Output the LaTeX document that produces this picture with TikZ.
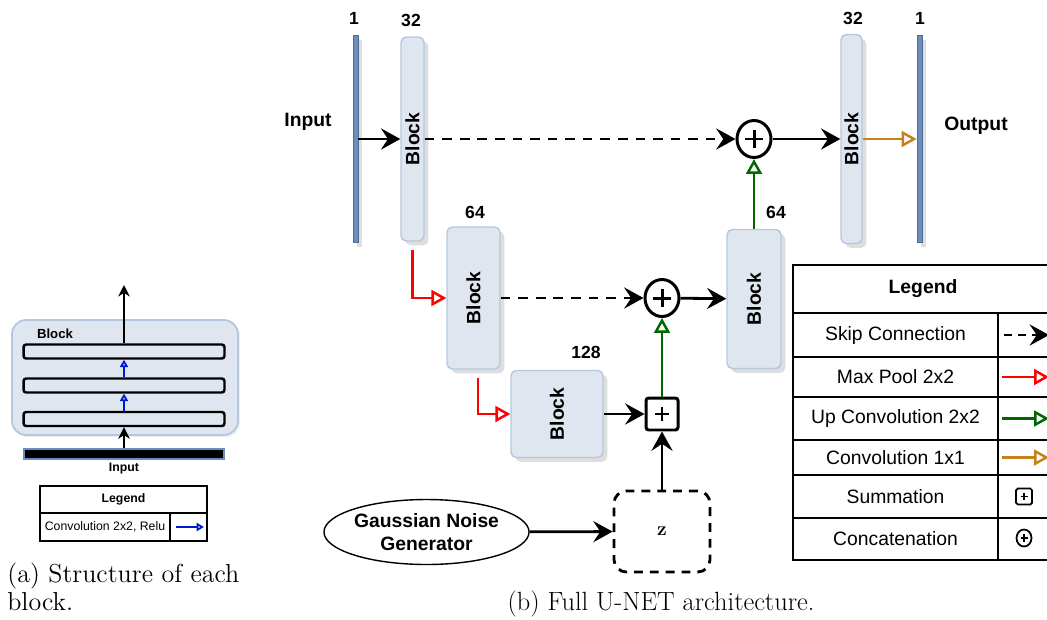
\documentclass[tikz,border=0pt]{standalone}
\usepackage{fontspec}
\setsansfont{Liberation Sans}
\usetikzlibrary{arrows.meta,shadows,shapes.geometric,positioning}

\definecolor{blockfill}{HTML}{DFE6EF}
\definecolor{blockline}{HTML}{B4C7DF}
\definecolor{barblue}{HTML}{6C8EBF}
\definecolor{upgreen}{HTML}{006600}
\definecolor{convorange}{HTML}{C8801A}
\definecolor{relublue}{HTML}{0019CC}

\tikzset{
  softshadow/.style={drop shadow={shadow xshift=2.5pt, shadow yshift=-2.5pt, fill=black!13, opacity=1}},
  blockbox/.style={draw=blockline, line width=0.8pt, fill=blockfill, rounded corners=3pt,
    inner sep=0pt, softshadow,
    label={[rotate=90, font=\sffamily\bfseries\fontsize{11}{13}\selectfont]center:Block}},
  layerbar/.style={draw=barblue!75!black, fill=barblue, line width=0.4pt, inner sep=0pt,
    minimum width=0.1cm, minimum height=4.14cm, softshadow},
  dimlabel/.style={font=\sffamily\bfseries\fontsize{10}{12}\selectfont, inner sep=0pt},
  plussign/.style 2 args={path picture={
    \draw[line width=#2] ([xshift=-#1]path picture bounding box.center) -- ([xshift=#1]path picture bounding box.center)
      ([yshift=-#1]path picture bounding box.center) -- ([yshift=#1]path picture bounding box.center);}},
  concat/.style={ellipse, draw, line width=1.7pt, minimum width=0.68cm, minimum height=0.74cm,
    inner sep=0pt, plussign={5pt}{1.7pt}},
  sumbox/.style={draw, line width=1.7pt, rounded corners=1.5pt, minimum size=0.64cm,
    inner sep=0pt, plussign={4pt}{1.6pt}},
  plain/.style={-{Stealth[length=11pt,width=12pt,inset=4pt]}, line width=1.6pt},
  skip/.style={plain, dash pattern=on 5.5pt off 4.5pt},
  openarrow/.style={-{Triangle[open,length=8.5pt,width=9pt]}, line width=1.4pt},
  maxpool/.style={openarrow, red},
  upconv/.style={openarrow, upgreen},
  convone/.style={openarrow, convorange},
  relu/.style={-{Triangle[open,length=4.2pt,width=4.6pt]}, line width=1pt, relublue},
  thinarrow/.style={-{Stealth[length=6.5pt,width=6.5pt,inset=2pt]}, line width=1pt},
  smalltext/.style={font=\sffamily\bfseries\fontsize{7}{8}\selectfont, inner sep=0pt},
  legendtext/.style={font=\sffamily\fontsize{11}{13}\selectfont, inner sep=0pt}
}

\begin{document}
\begin{tikzpicture}[x=0.02cm, y=-0.02cm]
  \useasboundingbox (0,0) rectangle (1047,619);
  \clip (0,0) rectangle (1047,619);

  % (a) structure of each block
  \node[draw=blockline, line width=1pt, fill=blockfill, rounded corners=8pt, minimum width=4.52cm,
    minimum height=2.3cm, inner sep=0pt, drop shadow={shadow xshift=1.2pt, shadow yshift=-1.2pt, fill=black!12}] (acont) at (125,377.5) {};
  \node[smalltext, font=\sffamily\bfseries\fontsize{7.5}{9}\selectfont] (ablock) at (55,334) {Block};
  \node[draw, line width=1.4pt, rounded corners=1.5pt, minimum width=4.02cm, minimum height=0.28cm, inner sep=0pt] (a1) at (124,351.5) {};
  \node[draw, line width=1.4pt, rounded corners=1.5pt, minimum width=4.02cm, minimum height=0.28cm, inner sep=0pt] (a2) at (124,385.5) {};
  \node[draw, line width=1.4pt, rounded corners=1.5pt, minimum width=4.02cm, minimum height=0.28cm, inner sep=0pt] (a3) at (124,419) {};
  \node[draw=barblue, line width=1pt, fill=black, minimum width=4cm, minimum height=0.2cm, inner sep=0pt] (ain) at (124,454) {};
  \node[smalltext] (ainlabel) at (124,469) {Input};
  \coordinate (atop) at (124,285);
  \draw[thinarrow] (ain) -- (a3);
  \draw[relu] (a3) -- (a2);
  \draw[relu] (a2) -- (a1);
  \draw[thinarrow] (a1) -- (atop);

  % legend of (a)
  \draw[line width=0.6pt] (40,486) rectangle (207,541);
  \draw[line width=0.6pt] (40,513) -- (207,513) (170,513) -- (170,541);
  \node[smalltext] (alegend) at (123.5,499.5) {Legend};
  \node[smalltext, font=\sffamily\fontsize{7}{8}\selectfont] (arelu) at (105,527) {Convolution 2x2, Relu};
  \coordinate (la1) at (176,527);
  \coordinate (la2) at (204,527);
  \draw[relu] (la1) -- (la2);

  \node[anchor=west, align=left, inner sep=0pt, font=\fontsize{14.8}{15.8}\selectfont] (capa) at (7,587) {(a) Structure of each\\block.};

  % (b) full U-NET
  \node[layerbar] (in1) at (355.5,139) {};
  \node[blockbox, minimum width=0.46cm, minimum height=4.08cm] (b1) at (412.5,139) {};
  \node[blockbox, minimum width=1.06cm, minimum height=2.84cm] (b2) at (473.5,298) {};
  \node[blockbox, minimum width=1.84cm, minimum height=1.74cm] (b3) at (557,414) {};
  \node[blockbox, minimum width=1.08cm, minimum height=2.78cm] (b4) at (754,299) {};
  \node[blockbox, minimum width=0.42cm, minimum height=4.18cm] (b5) at (851.5,139) {};
  \node[layerbar] (out1) at (919.5,139) {};
  \node[concat] (c1) at (754,139) {};
  \node[concat] (c2) at (662,298) {};
  \node[sumbox] (s1) at (662,414) {};
  \node[draw, line width=1.6pt, dash pattern=on 5pt off 4pt, rounded corners=7pt, minimum width=1.92cm,
    minimum height=1.62cm, font=\bfseries\fontsize{11}{13}\selectfont] (zbox) at (662,531.5) {z};
  \node[ellipse, draw, line width=0.8pt, minimum width=3.46cm, minimum height=1.3cm, inner sep=0pt, align=center,
    font=\sffamily\bfseries\fontsize{11}{13}\selectfont] (gng) at (426.5,532) {Gaussian Noise\\Generator};

  \node[dimlabel] (l1) at (354,18) {1};
  \node[dimlabel] (l32) at (411,20) {32};
  \node[dimlabel] (l64) at (475,212) {64};
  \node[dimlabel] (l128) at (586,352) {128};
  \node[dimlabel] (l64r) at (776,212) {64};
  \node[dimlabel] (l32r) at (853,18) {32};
  \node[dimlabel] (l1r) at (920,18) {1};
  \node[dimlabel, font=\sffamily\bfseries\fontsize{11}{13}\selectfont] (linput) at (308,122) {Input};
  \node[dimlabel, font=\sffamily\bfseries\fontsize{11}{13}\selectfont] (loutput) at (976,126) {Output};

  \draw[plain] (in1) -- (b1);
  \draw[skip] (b1) -- (c1);
  \draw[plain] (c1) -- (b5);
  \draw[convone] (b5) -- (out1);
  \draw[maxpool, shorten <=5pt] (b1.south) |- (b2);
  \draw[skip] (b2) -- (c2);
  \draw[plain] (c2) -- (b4);
  \draw[upconv] (b4) -- (c1);
  \draw[maxpool, shorten <=5pt] ([xshift=4.5*0.02cm]b2.south) |- (b3);
  \draw[plain] (b3) -- (s1);
  \draw[upconv] (s1) -- (c2);
  \draw[plain] (zbox) -- (s1);
  \draw[plain] (gng) -- (zbox);

  % legend of (b)
  \draw[line width=0.9pt] (793,265) rectangle (1070,560);
  \foreach \y in {313,357,397,440,475,518}
    \draw[line width=0.9pt] (793,\y) -- (1070,\y);
  \draw[line width=0.9pt] (998,313) -- (998,560);
  \node[legendtext, font=\sffamily\bfseries\fontsize{11}{13}\selectfont] (lglegend) at (923,289) {Legend};
  \node[legendtext] (lgskip) at (895.5,335) {Skip Connection};
  \node[legendtext] (lgpool) at (895.5,377) {Max Pool 2x2};
  \node[legendtext] (lgup) at (895.5,418.5) {Up Convolution 2x2};
  \node[legendtext] (lgconv) at (895.5,457.5) {Convolution 1x1};
  \node[legendtext] (lgsum) at (895.5,496.5) {Summation};
  \node[legendtext] (lgcat) at (895.5,539) {Concatenation};
  \coordinate (sk1) at (1004,335);
  \coordinate (sk2) at (1049,335);
  \coordinate (mp1) at (1002,377);
  \coordinate (mp2) at (1049,377);
  \coordinate (uc1) at (1002,418.5);
  \coordinate (uc2) at (1049,418.5);
  \coordinate (cv1) at (1002,457.5);
  \coordinate (cv2) at (1049,457.5);
  \draw[skip, dash pattern=on 4.5pt off 3.5pt] (sk1) -- (sk2);
  \draw[maxpool] (mp1) -- (mp2);
  \draw[upconv] (uc1) -- (uc2);
  \draw[convone] (cv1) -- (cv2);
  \node[draw, line width=1pt, rounded corners=1pt, minimum size=0.32cm, inner sep=0pt, plussign={2pt}{1pt}] (lgsumsym) at (1024,496.5) {};
  \node[ellipse, draw, line width=1pt, minimum width=0.3cm, minimum height=0.34cm, inner sep=0pt, plussign={2pt}{1pt}] (lgcatsym) at (1024,538) {};

  \node[inner sep=0pt, font=\fontsize{15}{17}\selectfont] (capb) at (661,604) {(b) Full U-NET architecture.};
\end{tikzpicture}
\end{document}
